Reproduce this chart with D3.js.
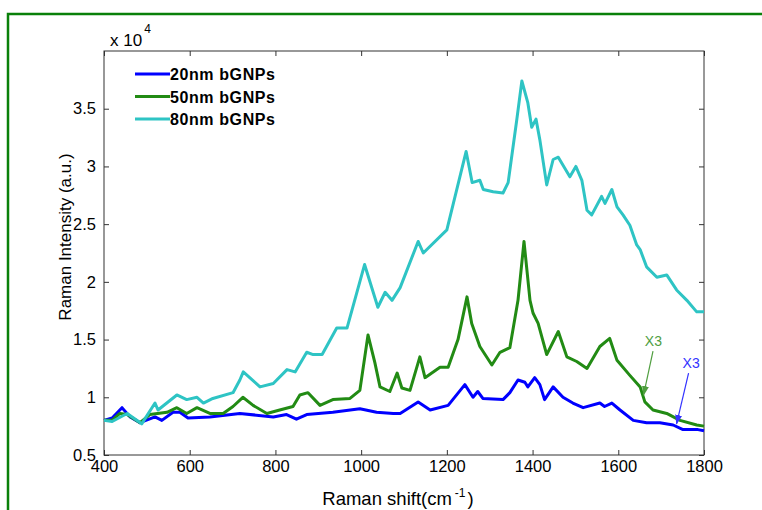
<!DOCTYPE html>
<html lang="en">
<head>
  <meta charset="UTF-8">
  <title>Raman spectra of bGNPs</title>
  <script src="https://d3js.org/d3.v7.min.js"></script>
  <style>
    body { margin: 0; background: #fff; font-family: "Liberation Sans", Arial, sans-serif; }
    .tick text { font-size: 16.5px; fill: #000; font-family: "Liberation Sans", Arial, sans-serif; }
    .tick line { stroke: #333; }
    .domain { display: none; }
  </style>
</head>
<body>
  <div id="chart"></div>

  <script>
    // values in units of 10^4 counts
    const shift20 = [400, 419, 442, 449, 461, 484, 519, 535, 561, 577, 596, 647, 717, 795, 826, 849, 873, 934, 997, 1036, 1075, 1091, 1133, 1161, 1203, 1242, 1261, 1272, 1284, 1331, 1347, 1366, 1382, 1389, 1405, 1417, 1428, 1448, 1471, 1494, 1518, 1557, 1568, 1585, 1604, 1635, 1666, 1697, 1728, 1751, 1786, 1800];
    const int20   = [0.80, 0.82, 0.91, 0.88, 0.83, 0.78, 0.83, 0.80, 0.87, 0.87, 0.82, 0.83, 0.86, 0.83, 0.85, 0.81, 0.85, 0.87, 0.90, 0.87, 0.86, 0.86, 0.96, 0.89, 0.93, 1.11, 1.00, 1.05, 0.99, 0.98, 1.04, 1.15, 1.13, 1.09, 1.17, 1.11, 0.98, 1.09, 1.00, 0.95, 0.91, 0.95, 0.92, 0.95, 0.89, 0.80, 0.78, 0.78, 0.76, 0.72, 0.72, 0.71];

    const shift50 = [400, 419, 437, 454, 484, 507, 547, 570, 593, 617, 647, 678, 701, 724, 748, 780, 810, 841, 857, 876, 904, 934, 974, 997, 1016, 1032, 1044, 1067, 1084, 1095, 1114, 1137, 1149, 1184, 1203, 1226, 1247, 1258, 1277, 1305, 1324, 1347, 1366, 1380, 1394, 1401, 1413, 1433, 1460, 1480, 1503, 1527, 1557, 1580, 1597, 1627, 1651, 1662, 1681, 1713, 1744, 1783, 1800];
    const int50   = [0.80, 0.80, 0.86, 0.85, 0.78, 0.85, 0.87, 0.91, 0.86, 0.91, 0.86, 0.86, 0.92, 1.00, 0.93, 0.86, 0.89, 0.92, 1.02, 1.04, 0.93, 0.98, 0.99, 1.06, 1.54, 1.30, 1.09, 1.05, 1.21, 1.08, 1.06, 1.35, 1.17, 1.26, 1.26, 1.50, 1.87, 1.64, 1.44, 1.28, 1.39, 1.43, 1.84, 2.35, 1.84, 1.73, 1.64, 1.37, 1.57, 1.35, 1.31, 1.25, 1.44, 1.51, 1.32, 1.19, 1.09, 0.96, 0.89, 0.86, 0.80, 0.76, 0.75];

    const shift80 = [400, 419, 454, 488, 519, 526, 570, 593, 617, 632, 654, 701, 717, 725, 764, 795, 827, 846, 873, 888, 909, 943, 967, 1008, 1039, 1056, 1072, 1091, 1133, 1145, 1200, 1245, 1259, 1277, 1285, 1308, 1331, 1343, 1363, 1375, 1389, 1398, 1408, 1417, 1433, 1448, 1460, 1487, 1501, 1515, 1527, 1538, 1561, 1569, 1585, 1597, 1611, 1627, 1643, 1651, 1666, 1690, 1713, 1736, 1760, 1783, 1800];
    const int80   = [0.80, 0.79, 0.86, 0.77, 0.95, 0.89, 1.02, 0.98, 1.00, 0.95, 0.99, 1.04, 1.15, 1.22, 1.09, 1.12, 1.24, 1.22, 1.39, 1.37, 1.37, 1.60, 1.60, 2.15, 1.78, 1.91, 1.84, 1.95, 2.35, 2.25, 2.45, 3.13, 2.86, 2.88, 2.80, 2.78, 2.77, 2.86, 3.40, 3.74, 3.55, 3.34, 3.41, 3.23, 2.84, 3.06, 3.08, 2.91, 3.00, 2.88, 2.62, 2.58, 2.74, 2.68, 2.80, 2.65, 2.58, 2.49, 2.32, 2.28, 2.13, 2.04, 2.06, 1.93, 1.84, 1.74, 1.74];

    const seriesNames  = ["20nm bGNPs", "50nm bGNPs", "80nm bGNPs"];
    const seriesColors = ["#0000ff", "#228b14", "#2ec4c4"];
    const xTicks = [400, 600, 800, 1000, 1200, 1400, 1600, 1800];
    const yTicks = [0.5, 1, 1.5, 2, 2.5, 3, 3.5];

    const series = [
      {name: seriesNames[0], color: seriesColors[0], pts: shift20.map((s, i) => [s, int20[i]])},
      {name: seriesNames[1], color: seriesColors[1], pts: shift50.map((s, i) => [s, int50[i]])},
      {name: seriesNames[2], color: seriesColors[2], pts: shift80.map((s, i) => [s, int80[i]])}
    ];

    const W = 762, H = 510;
    const margin = {top: 51, left: 104},
          width = 600,
          height = 404;

    const svg = d3.select("#chart").append("svg")
                  .attr("width", W).attr("height", H);

    // green frame of the figure
    svg.append("path")
       .attr("d", `M8,${H + 5}V14H${W + 5}`)
       .attr("fill", "none")
       .attr("stroke", "#0a800a")
       .attr("stroke-width", 2.5);

    const g = svg.append("g").attr("transform", `translate(${margin.left},${margin.top})`);

    const x = d3.scaleLinear().domain([400, 1800]).range([0, width]);
    const y = d3.scaleLinear().domain([0.5, 4]).range([height, 0]);

    g.append("g")
     .attr("transform", `translate(0,${height})`)
     .call(d3.axisBottom(x).tickValues(xTicks).tickSizeInner(-5).tickSizeOuter(0).tickPadding(5).tickFormat(d3.format("d")));
    g.append("g")
     .call(d3.axisTop(x).tickValues(xTicks).tickSizeInner(-5).tickSizeOuter(0).tickFormat(""));
    g.append("g")
     .call(d3.axisLeft(y).tickValues(yTicks).tickSizeInner(-5).tickSizeOuter(0).tickPadding(8).tickFormat(d3.format("")));
    g.append("g")
     .attr("transform", `translate(${width},0)`)
     .call(d3.axisRight(y).tickValues(yTicks).tickSizeInner(-5).tickSizeOuter(0).tickFormat(""));

    g.append("rect")
     .attr("width", width).attr("height", height)
     .attr("fill", "none").attr("stroke", "#333").attr("stroke-width", 1);

    const line = d3.line().x(d => x(d[0])).y(d => y(d[1]));

    g.selectAll(".series")
     .data(series)
     .enter()
     .append("path")
     .attr("class", "series")
     .attr("d", d => line(d.pts))
     .attr("fill", "none")
     .attr("stroke", d => d.color)
     .attr("stroke-width", 3)
     .attr("stroke-linejoin", "round");

    // legend
    const leg = g.append("g").attr("transform", "translate(31,23)");
    series.forEach((s, i) => {
      const row = leg.append("g").attr("transform", `translate(0,${i * 22.5})`);
      row.append("line").attr("x1", 0).attr("x2", 35).attr("y1", 0).attr("y2", 0)
         .attr("stroke", s.color).attr("stroke-width", 3);
      row.append("text").attr("x", 35).attr("y", 6)
         .style("font-size", "16px").style("font-weight", "bold").style("letter-spacing", "0.6px")
         .text(s.name);
    });

    // exponent label
    const ex = svg.append("text").attr("x", 110).attr("y", 46).style("font-size", "17px");
    ex.append("tspan").text("x 10");
    ex.append("tspan").attr("dx", 2).attr("dy", -13).style("font-size", "12px").text("4");

    // axis titles
    svg.append("text")
       .attr("transform", "translate(71,237) rotate(-90)")
       .attr("text-anchor", "middle")
       .style("font-size", "17px")
       .text("Raman Intensity (a.u.)");

    const xl = svg.append("text").attr("x", 398).attr("y", 505)
                  .attr("text-anchor", "middle").style("font-size", "18.5px");
    xl.append("tspan").text("Raman shift(cm");
    xl.append("tspan").attr("dx", 3).attr("dy", -8).style("font-size", "12px").text("-1");
    xl.append("tspan").attr("dx", 2).attr("dy", 8).text(")");

    // X3 annotations (text position and arrow ends in data coordinates)
    svg.append("defs").selectAll("marker")
       .data([["ag", "#4f9e3f"], ["ab", "#3333ff"]])
       .enter().append("marker")
       .attr("id", d => d[0])
       .attr("viewBox", "0 0 10 10").attr("refX", 9).attr("refY", 5)
       .attr("markerWidth", 10).attr("markerHeight", 10)
       .attr("markerUnits", "userSpaceOnUse")
       .attr("orient", "auto")
       .append("path").attr("d", "M0,1.5L10,5L0,8.5Z").attr("fill", d => d[1]);

    const notes = [
      {text: "X3", color: "#4f9e3f", tx: 1682, ty: 1.44, sx: 1681, sy: 1.40, ex: 1659, ey: 1.02, m: "ag"},
      {text: "X3", color: "#3333ff", tx: 1770, ty: 1.25, sx: 1764, sy: 1.21, ex: 1736, ey: 0.77, m: "ab"}
    ];
    notes.forEach(n => {
      g.append("text").attr("x", x(n.tx)).attr("y", y(n.ty)).attr("text-anchor", "middle")
       .style("font-size", "14px").attr("fill", n.color).text(n.text);
      g.append("line")
       .attr("x1", x(n.sx)).attr("y1", y(n.sy))
       .attr("x2", x(n.ex)).attr("y2", y(n.ey))
       .attr("stroke", n.color).attr("stroke-width", 1.2)
       .attr("marker-end", `url(#${n.m})`);
    });
  </script>
</body>
</html>
